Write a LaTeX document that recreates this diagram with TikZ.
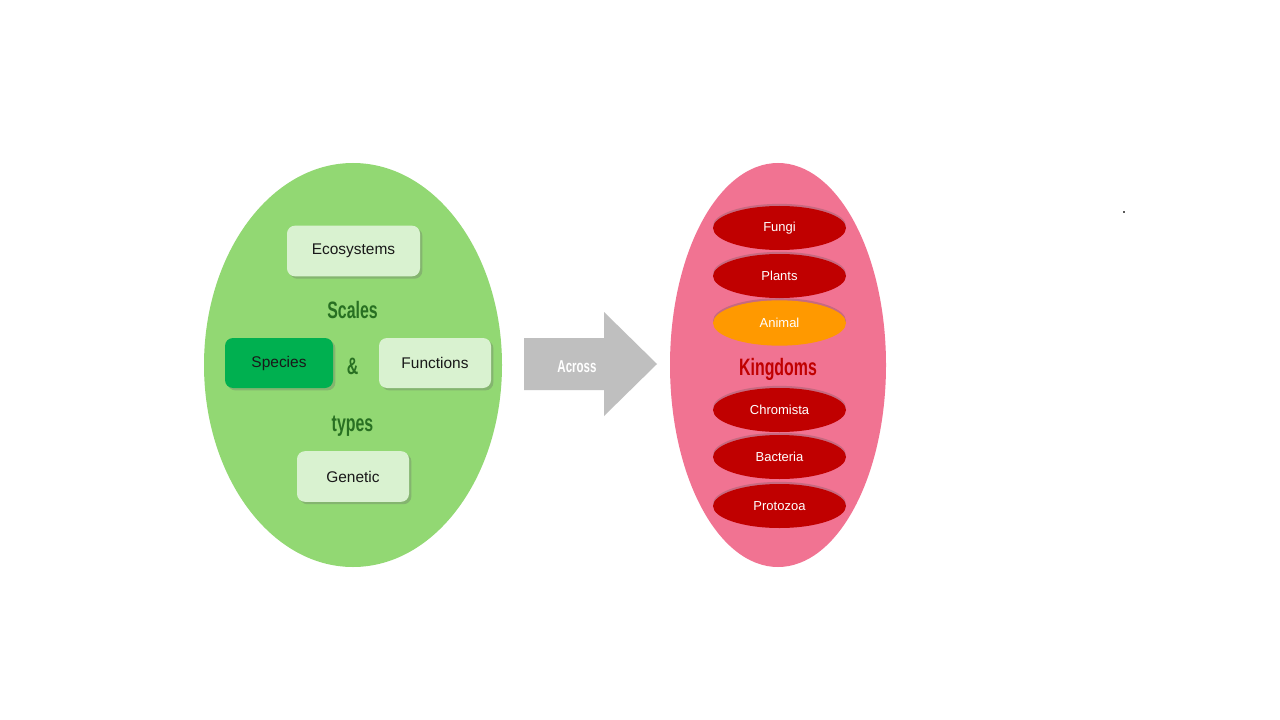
\documentclass[tikz,border=0pt]{standalone}
\usepackage{fontspec}
\usepackage{graphicx}
\setmainfont{Liberation Sans}
\newcommand{\headtext}[2][17.8]{{\bfseries\fontsize{#1}{#1}\selectfont\scalebox{0.67}[1]{#2}}}
\usetikzlibrary{shapes.geometric,shadows}
\definecolor{leafgreen}{RGB}{146,216,115}
\definecolor{paleleaf}{RGB}{217,242,208}
\definecolor{speciesgreen}{RGB}{0,176,80}
\definecolor{headgreen}{RGB}{40,112,34}
\definecolor{pinkback}{RGB}{241,115,146}
\definecolor{kingred}{RGB}{192,0,0}
\definecolor{animalorange}{RGB}{255,153,0}
\definecolor{arrowgray}{RGB}{191,191,191}
\definecolor{dotgray}{RGB}{90,90,90}
\tikzset{
  bigoval/.style={ellipse, inner sep=0pt},
  scalebox/.style={rounded corners=6pt, minimum height=38pt, inner sep=0pt,
    font=\fontsize{11.6}{13}\selectfont, text=black!90,
    drop shadow={shadow xshift=1.8pt, shadow yshift=-1.8pt, opacity=0.3, fill=black!60}},
  kingoval/.style={ellipse, minimum width=99.75pt, minimum height=33pt, inner sep=0pt,
    fill=kingred, text=white, font=\fontsize{9.75}{11}\selectfont,
    drop shadow={shadow xshift=0pt, shadow yshift=1.6pt, opacity=0.25, fill=black!70}},
  heading/.style={inner sep=0pt},
}
\begin{document}
\begin{tikzpicture}[x=0.75pt, y=-0.75pt]
\useasboundingbox (0,0) rectangle (1280,720);
\fill[white] (0,0) rectangle (1280,720);

% left oval
\node[bigoval, fill=leafgreen, minimum width=223.5pt, minimum height=303pt] (leftoval) at (353,365) {};
\node[scalebox, fill=paleleaf, minimum width=99.75pt] (eco) at (353.5,251) {Ecosystems};
\node[heading, text=headgreen] (scales) at (352.5,310) {\headtext{Scales}};
\node[scalebox, fill=speciesgreen, minimum width=81pt, minimum height=37.5pt] (species) at (279,363) {Species};
\node[heading, text=headgreen] (amp) at (352.5,366) {\headtext{\&}};
\node[scalebox, fill=paleleaf, minimum width=84pt, minimum height=37.5pt] (functions) at (435,363) {Functions};
\node[heading, text=headgreen] (types) at (352.5,426) {\headtext{types}};
\node[scalebox, fill=paleleaf, minimum width=84pt] (genetic) at (353,476.5) {Genetic};

% arrow
\fill[arrowgray] (524,338) -- (604,338) -- (604,312) -- (657,364) -- (604,416) -- (604,390) -- (524,390) -- cycle;
\node[heading, text=white] (across) at (577,367) {\headtext[12.9]{Across}};

% right oval
\node[bigoval, fill=pinkback, minimum width=162pt, minimum height=303pt] (rightoval) at (778,365) {};
\node[kingoval] (fungi) at (779.5,228) {Fungi};
\node[kingoval] (plants) at (779.5,276) {Plants};
\node[kingoval, fill=animalorange, minimum height=34pt] (animal) at (779.5,323) {Animal};
\node[heading, text=kingred] (kingdoms) at (778,369) {\headtext{Kingdoms}};
\node[kingoval] (chromista) at (779.5,410) {Chromista};
\node[kingoval] (bacteria) at (779.5,457) {Bacteria};
\node[kingoval] (protozoa) at (779.5,506) {Protozoa};

% stray dot
\fill[dotgray] (1123,211) rectangle (1125,213);
\end{tikzpicture}
\end{document}
